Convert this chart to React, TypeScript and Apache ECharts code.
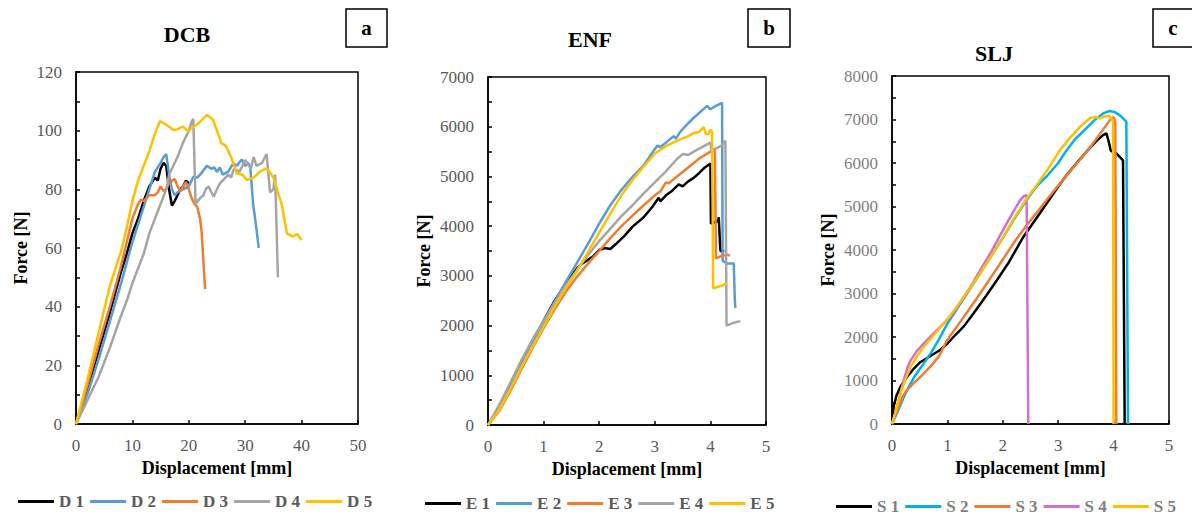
import React, { useEffect, useRef } from "react";
import * as echarts from "echarts";

type P = [number, number];

// ---------- DCB (panel a) ----------
const dcbNames = ["D 1", "D 2", "D 3", "D 4", "D 5"];
const D1: P[] = [[0,0],[2,12],[4,25],[6,38],[8,52],[9,58],[10,65],[11,70],[12,76],[13,81],[14,84],[14.5,83],[15,87],[15.5,89],[16,88],[16.5,80],[17,74.5],[17.5,76],[18,78],[18.5,80],[19,81],[19.5,83],[20,82]];
const D2: P[] = [[0,0],[2,10],[4,22],[6,35],[8,48],[10,62],[11,68],[12,74],[13,80],[14,86],[15,89],[15.5,91],[16,92],[16.5,85],[17,80],[17.5,78],[18,79],[19,80],[20,81],[20.8,84.3],[21.5,84],[22,85],[23.2,88],[24,87],[24.5,87.5],[25,86],[25.5,87.5],[26,85],[27,86],[27.9,88.9],[28.5,88],[29.4,90.2],[30,88],[30.5,89],[30.9,87.7],[31.4,75],[31.9,68],[32.4,60]];
const D3: P[] = [[0,0],[2,13],[4,27],[6,40],[8,54],[9,62],[10,70],[11,75],[11.5,76.5],[12,76],[12.5,77],[13,78],[14,78],[14.5,79],[15,81],[15.5,79.5],[16,80],[16.5,82],[17,83],[17.5,83.5],[18,81],[18.5,79.5],[19,81],[19.5,82.5],[20,80],[20.5,77],[21,75],[21.5,74],[22,70],[22.3,65],[22.6,55],[22.9,46]];
const D4: P[] = [[0,0],[2,8],[4,16],[6,26],[8,37],[9,42],[10,48],[11,53],[12,58],[13,65],[14,70],[15,75],[16,80],[16.5,85],[17,87],[18,91],[19,96],[20,100],[20.5,103],[20.8,104],[21.2,75],[22,77],[22.6,78],[23,80],[23.5,81],[24,79],[24.4,77.5],[25,80],[25.5,82],[26,83],[27,85],[27.5,84],[28,87],[29,86],[29.5,88],[30,90],[31,87],[31.5,91],[32,88],[33,89],[33.5,91],[33.8,92],[34.4,79],[35,80],[35.3,85],[35.8,50]];
const D5: P[] = [[0,0],[2,15],[4,31],[6,47],[8,59],[9,67],[10,76],[11,83],[12,88],[13,93],[14,99],[14.9,103.3],[16,102],[17.3,100.2],[18,100.5],[19,101.4],[19.9,99.7],[20.5,101],[21.4,102],[22.5,104],[23.2,105.4],[24.3,103.7],[25,100],[25.8,95.7],[26.5,95],[27.5,91],[28.5,85.5],[29.5,85],[30.3,83.2],[31.5,84],[32.6,86],[33.8,87.2],[35,84],[36.5,74.7],[37.4,65],[38.5,63.9],[39.2,64.8],[40,62.7]];

// ---------- ENF (panel b) ----------
const enfNames = ["E 1", "E 2", "E 3", "E 4", "E 5"];
const E1: P[] = [[0,0],[0.2,350],[0.4,750],[0.6,1200],[0.8,1650],[1.0,2100],[1.2,2500],[1.4,2850],[1.6,3150],[1.7,3250],[1.9,3400],[2.0,3520],[2.1,3560],[2.2,3540],[2.3,3640],[2.45,3800],[2.6,3990],[2.8,4180],[2.95,4380],[3.07,4570],[3.1,4500],[3.2,4620],[3.3,4700],[3.43,4840],[3.5,4800],[3.6,4900],[3.7,4970],[3.8,5070],[3.9,5180],[4.0,5260],[4.01,4050],[4.14,4100],[4.15,4180],[4.18,3500],[4.25,3500]];
const E2: P[] = [[0,0],[0.2,330],[0.4,760],[0.6,1210],[0.8,1640],[1.0,2060],[1.2,2480],[1.4,2880],[1.6,3260],[1.8,3650],[2.0,4050],[2.2,4420],[2.4,4730],[2.6,4990],[2.8,5220],[2.98,5520],[3.05,5620],[3.1,5590],[3.2,5680],[3.34,5810],[3.38,5760],[3.46,5900],[3.6,6070],[3.7,6180],[3.85,6330],[3.94,6420],[4.0,6350],[4.1,6420],[4.21,6480],[4.22,3300],[4.3,3250],[4.42,3250],[4.44,2500],[4.45,2350]];
const E3: P[] = [[0,0],[0.2,280],[0.4,680],[0.6,1120],[0.8,1550],[1.0,1950],[1.2,2330],[1.4,2680],[1.6,2980],[1.8,3250],[2.0,3500],[2.2,3760],[2.4,4000],[2.6,4210],[2.8,4420],[3.0,4620],[3.1,4700],[3.2,4880],[3.25,4860],[3.4,5000],[3.6,5180],[3.8,5360],[4.0,5500],[4.08,5560],[4.1,3350],[4.2,3400],[4.3,3430],[4.35,3400]];
const E4: P[] = [[0,0],[0.2,400],[0.4,850],[0.6,1300],[0.8,1720],[1.0,2100],[1.2,2460],[1.4,2800],[1.6,3120],[1.8,3420],[2.0,3700],[2.2,3950],[2.4,4200],[2.6,4420],[2.8,4660],[3.0,4880],[3.2,5100],[3.4,5350],[3.5,5450],[3.6,5430],[3.7,5500],[3.8,5560],[4.0,5680],[4.02,5500],[4.1,5560],[4.2,5620],[4.27,5720],[4.29,2000],[4.4,2050],[4.54,2090]];
const E5: P[] = [[0,0],[0.2,300],[0.4,720],[0.6,1160],[0.8,1580],[1.0,1980],[1.2,2380],[1.4,2760],[1.6,3100],[1.8,3480],[2.0,3870],[2.2,4250],[2.4,4620],[2.6,4930],[2.8,5200],[3.0,5460],[3.2,5610],[3.4,5720],[3.6,5810],[3.7,5870],[3.8,5900],[3.88,5990],[3.92,5850],[3.97,5860],[4.0,5940],[4.03,5900],[4.05,2750],[4.2,2800],[4.3,2860]];

// ---------- SLJ (panel c) ----------
const sljNames = ["S 1", "S 2", "S 3", "S 4", "S 5"];
const S1: P[] = [[0,0],[0.03,400],[0.08,650],[0.15,850],[0.27,1080],[0.4,1280],[0.51,1420],[0.7,1570],[0.87,1700],[1.0,1850],[1.11,2000],[1.3,2250],[1.47,2540],[1.7,2950],[1.89,3300],[2.1,3700],[2.37,4300],[2.6,4720],[2.79,5070],[3.0,5460],[3.15,5720],[3.35,6020],[3.51,6260],[3.7,6520],[3.81,6640],[3.87,6680],[3.91,6500],[3.95,6280],[4.05,6220],[4.17,6060],[4.2,0]];
const S2: P[] = [[0,0],[0.1,280],[0.2,580],[0.3,850],[0.4,1080],[0.55,1350],[0.7,1630],[0.85,1950],[1.0,2310],[1.2,2700],[1.4,3090],[1.6,3480],[1.8,3880],[2.0,4280],[2.2,4700],[2.43,5150],[2.6,5450],[2.79,5690],[3.0,6000],[3.15,6290],[3.3,6540],[3.51,6800],[3.65,6980],[3.81,7140],[3.93,7195],[4.02,7170],[4.11,7100],[4.23,6950],[4.26,0]];
const S3: P[] = [[0,0],[0.1,330],[0.2,650],[0.27,780],[0.4,950],[0.51,1080],[0.7,1330],[0.85,1560],[0.99,1920],[1.2,2290],[1.4,2650],[1.59,3000],[1.8,3400],[2.0,3780],[2.19,4150],[2.4,4520],[2.6,4840],[2.79,5150],[3.0,5480],[3.2,5790],[3.39,6070],[3.6,6400],[3.8,6750],[3.93,6980],[4.0,7060],[4.03,6950],[4.05,0]];
const S4: P[] = [[0,0],[0.07,300],[0.14,650],[0.21,1000],[0.28,1300],[0.33,1450],[0.45,1680],[0.57,1850],[0.72,2040],[0.87,2230],[1.05,2460],[1.2,2730],[1.4,3120],[1.59,3530],[1.8,3980],[2.07,4610],[2.2,4900],[2.31,5140],[2.38,5240],[2.43,5260],[2.46,0]];
const S5: P[] = [[0,0],[0.08,350],[0.15,700],[0.25,1050],[0.33,1300],[0.45,1560],[0.57,1770],[0.75,2040],[0.99,2390],[1.2,2750],[1.4,3110],[1.59,3460],[1.8,3880],[2.0,4280],[2.2,4720],[2.43,5180],[2.6,5470],[2.8,5830],[3.03,6290],[3.2,6560],[3.4,6840],[3.57,7030],[3.66,7060],[3.75,7030],[3.85,7080],[3.92,7080],[3.99,6990],[4.0,0]];

const dcbColors = ["#000000", "#5B9BD5", "#ED7D31", "#A5A5A5", "#FFC000"];
const enfColors = ["#000000", "#5B9BD5", "#ED7D31", "#A5A5A5", "#FFC000"];
const sljColors = ["#000000", "#00B0F0", "#ED7D31", "#D46FCB", "#FFC000"];

const FONT = "'Liberation Serif', 'Times New Roman', serif";
const LABEL = "#595959";
const LABEL_C = "#7F7F7F";

function xAxisCfg(gridIndex: number, max: number, interval: number) {
  return {
    type: "value", gridIndex, min: 0, max, interval,
    name: "Displacement [mm]", nameLocation: "middle", nameGap: 35,
    nameTextStyle: { fontFamily: FONT, fontWeight: "bold", fontSize: 18, color: "#000" },
    axisLine: { show: true, lineStyle: { color: "#000", width: 1.5 } },
    axisTick: { show: true, inside: true, length: 4, lineStyle: { color: "#000", width: 1.5 } },
    axisLabel: { fontFamily: FONT, fontSize: 17, color: LABEL, margin: 13, formatter: (v: number) => String(v) },
    splitLine: { show: false },
  };
}
function yAxisCfg(gridIndex: number, max: number, interval: number, gap: number, color: string) {
  return {
    type: "value", gridIndex, min: 0, max, interval,
    name: "Force [N]", nameLocation: "middle", nameGap: gap,
    nameTextStyle: { fontFamily: FONT, fontWeight: "bold", fontSize: 18, color: "#000" },
    axisLine: { show: true, lineStyle: { color: "#000", width: 1.5 } },
    axisTick: { show: true, inside: true, length: 4, lineStyle: { color: "#000", width: 1.5 } },
    minorTick: { show: true, splitNumber: 2, length: 4, lineStyle: { color: "#000", width: 1.5 } },
    axisLabel: { fontFamily: FONT, fontSize: 17, color, margin: 14, formatter: (v: number) => String(v) },
    splitLine: { show: false },
  };
}
function lines(names: string[], data: P[][], colors: string[], idx: number) {
  return names.map((n, i) => ({
    name: n, type: "line", xAxisIndex: idx, yAxisIndex: idx, data: data[i],
    showSymbol: false, symbol: "none", smooth: false,
    lineStyle: { color: colors[i], width: 2.5 }, itemStyle: { color: colors[i] },
  }));
}
function legendCfg(names: string[], left: number, top: number, color: string) {
  return {
    data: names, left, top, orient: "horizontal", icon: "rect",
    itemWidth: 36, itemHeight: 3, itemGap: 6,
    textStyle: { fontFamily: FONT, fontWeight: "bold", fontSize: 17, color },
  };
}
function boxLabel(letter: string, x: number, w: number) {
  return [
    { type: "rect", shape: { x, y: 9, width: w, height: 38 }, style: { fill: "#fff", stroke: "#000", lineWidth: 1.5 } },
    { type: "text", x: x + w / 2, y: 28, style: { text: letter, fontFamily: FONT, fontWeight: "bold", fontSize: 21, fill: "#000", align: "center", verticalAlign: "middle" } },
  ];
}
function title(t: string, x: number, y: number) {
  return { type: "text", x, y, style: { text: t, fontFamily: FONT, fontWeight: "bold", fontSize: 22, fill: "#000", align: "center", verticalAlign: "middle" } };
}

export default function App() {
  const ref = useRef<HTMLDivElement>(null);
  useEffect(() => {
    if (!ref.current) return;
    const chart = echarts.init(ref.current, undefined, { renderer: "svg" });
    const gridStyle = { show: true, borderColor: "#000", borderWidth: 1.5, containLabel: false };
    chart.setOption({
      animation: false,
      backgroundColor: "#fff",
      grid: [
        { ...gridStyle, left: 76, top: 72, width: 282, height: 352 },
        { ...gridStyle, left: 488, top: 77, width: 278, height: 348 },
        { ...gridStyle, left: 892, top: 76, width: 277, height: 348 },
      ],
      xAxis: [xAxisCfg(0, 50, 10), xAxisCfg(1, 5, 1), xAxisCfg(2, 5, 1)],
      yAxis: [yAxisCfg(0, 120, 20, 46, LABEL), yAxisCfg(1, 7000, 1000, 55, LABEL), yAxisCfg(2, 8000, 1000, 55, LABEL_C)],
      legend: [legendCfg(dcbNames, 13, 488, LABEL), legendCfg(enfNames, 420, 490, LABEL), legendCfg(sljNames, 831, 493, LABEL_C)],
      series: [
        ...lines(dcbNames, [D1, D2, D3, D4, D5], dcbColors, 0),
        ...lines(enfNames, [E1, E2, E3, E4, E5], enfColors, 1),
        ...lines(sljNames, [S1, S2, S3, S4, S5], sljColors, 2),
      ],
      graphic: [
        title("DCB", 187, 34), title("ENF", 590, 39), title("SLJ", 994, 53),
        ...boxLabel("a", 346, 41), ...boxLabel("b", 748, 42), ...boxLabel("c", 1153, 40),
      ],
    });
    return () => chart.dispose();
  }, []);
  return <div ref={ref} style={{ position: "absolute", left: 0, top: 0, width: 1192, height: 517 }} />;
}
